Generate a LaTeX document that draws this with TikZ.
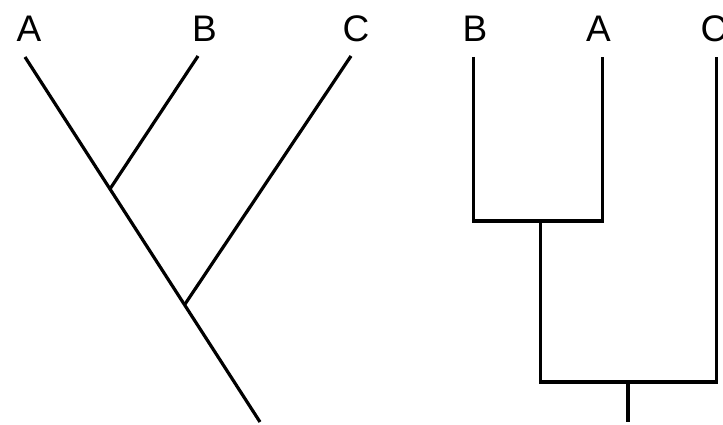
\documentclass[tikz,border=0pt]{standalone}
\usepackage{fontspec}
\setmainfont{Liberation Sans}
\usetikzlibrary{calc}
\begin{document}
\begin{tikzpicture}[x=1pt,y=-1pt,
  lbl/.style={anchor=base,inner sep=0pt,font=\fontsize{37}{40}\selectfont},
  branch/.style={line width=3.2pt,line cap=butt,line join=miter}]
\useasboundingbox (0,0) rectangle (723,425);
% left tree
\node[lbl] (la) at (29,42) {A};
\node[lbl] (lb) at (204.5,42) {B};
\node[lbl] (lc) at (356,42) {C};
\coordinate (ta) at (25,57);
\coordinate (tb) at (198,56);
\coordinate (tc) at (351,56);
\coordinate (lroot) at (260,422);
\coordinate (jab) at ($(ta)!0.3616!(lroot)$);
\coordinate (jabc) at ($(ta)!0.679!(lroot)$);
\draw[branch] (ta) -- (lroot);
\draw[branch] (tb) -- (jab);
\draw[branch] (tc) -- (jabc);
% right tree
\node[lbl] (rb) at (475,42) {B};
\node[lbl] (ra) at (598.5,42) {A};
\node[lbl] (rc) at (714,42) {C};
\coordinate (rtb) at (473.5,57);
\coordinate (rta) at (602.5,57);
\coordinate (rtc) at (716.5,57);
\coordinate (rjab) at (540.5,221);
\coordinate (rjabc) at (628,382);
\coordinate (rroot) at (628,422);
\draw[branch] (rtb) |- (rjab) -| (rta);
\draw[branch] (rjab) |- (rjabc) -| (rtc);
\draw[branch] (rjabc) -- (rroot);
\end{tikzpicture}
\end{document}
